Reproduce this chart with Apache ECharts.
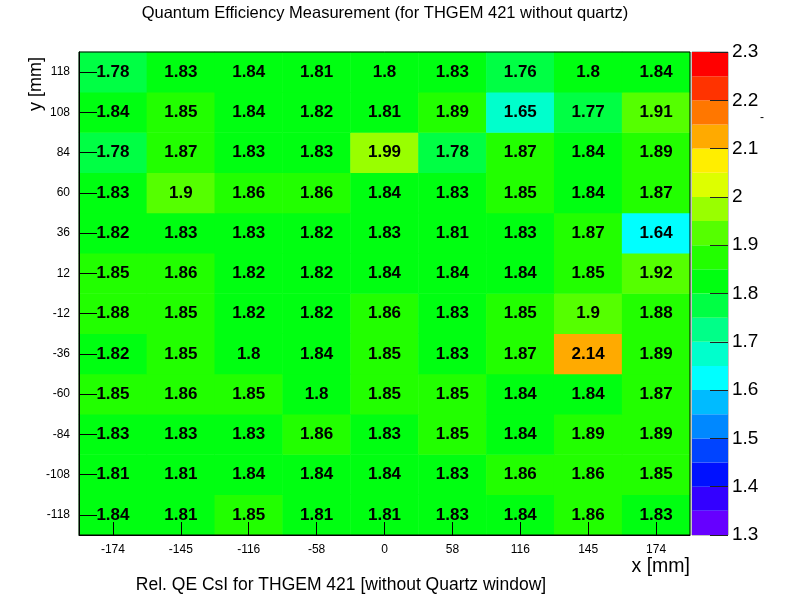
<!DOCTYPE html>
<html>
<head>
<meta charset="utf-8">
<script src="https://cdn.jsdelivr.net/npm/echarts@6/dist/echarts.min.js"></script>
<style>html,body{margin:0;padding:0;background:#fff}#c{width:785px;height:599px}</style>
</head>
<body>
<div id="c"></div>
<script>
// ---- data ----
const xCategories = ['-174', '-145', '-116', '-58', '0', '58', '116', '145', '174'];
const yCategories = ['-118', '-108', '-84', '-60', '-36', '-12', '12', '36', '60', '84', '108', '118'];
// rows listed top (y=118) to bottom (y=-118)
const row118  = [1.78, 1.83, 1.84, 1.81, 1.8, 1.83, 1.76, 1.8, 1.84];
const row108  = [1.84, 1.85, 1.84, 1.82, 1.81, 1.89, 1.65, 1.77, 1.91];
const row84   = [1.78, 1.87, 1.83, 1.83, 1.99, 1.78, 1.87, 1.84, 1.89];
const row60   = [1.83, 1.9, 1.86, 1.86, 1.84, 1.83, 1.85, 1.84, 1.87];
const row36   = [1.82, 1.83, 1.83, 1.82, 1.83, 1.81, 1.83, 1.87, 1.64];
const row12   = [1.85, 1.86, 1.82, 1.82, 1.84, 1.84, 1.84, 1.85, 1.92];
const rowM12  = [1.88, 1.85, 1.82, 1.82, 1.86, 1.83, 1.85, 1.9, 1.88];
const rowM36  = [1.82, 1.85, 1.8, 1.84, 1.85, 1.83, 1.87, 2.14, 1.89];
const rowM60  = [1.85, 1.86, 1.85, 1.8, 1.85, 1.85, 1.84, 1.84, 1.87];
const rowM84  = [1.83, 1.83, 1.83, 1.86, 1.83, 1.85, 1.84, 1.89, 1.89];
const rowM108 = [1.81, 1.81, 1.84, 1.84, 1.84, 1.83, 1.86, 1.86, 1.85];
const rowM118 = [1.84, 1.81, 1.85, 1.81, 1.81, 1.83, 1.84, 1.86, 1.83];
// colour scale levels (band edges) and palette
const levels = [1.3, 1.35, 1.4, 1.45, 1.5, 1.55, 1.6, 1.65, 1.7, 1.75, 1.8, 1.85, 1.9, 1.95, 2.0, 2.05, 2.1, 2.15, 2.2, 2.25, 2.3];
const paletteColors = ['#6600ff', '#3300ff', '#0011ff', '#0044ff', '#0088ff', '#00bbff', '#00ffff', '#00ffcc', '#00ff88', '#00ff44',
                       '#00ff11', '#22ff00', '#55ff00', '#99ff00', '#ddff00', '#ffee00', '#ffaa00', '#ff7700', '#ff3300', '#ff0000'];
const colorTicks = ['1.3', '1.4', '1.5', '1.6', '1.7', '1.8', '1.9', '2', '2.1', '2.2', '2.3'];

// ---- build ----
const rowsBottomUp = [rowM118, rowM108, rowM84, rowM60, rowM36, rowM12, row12, row36, row60, row84, row108, row118];
const heatData = [];
rowsBottomUp.forEach((row, yi) => row.forEach((v, xi) => heatData.push([xi, yi, v])));

const pieces = [];
for (let i = 0; i < paletteColors.length; i++) {
  const p = { gte: levels[i], color: paletteColors[i] };
  if (i < paletteColors.length - 1) p.lt = levels[i + 1]; else p.lte = levels[i + 1];
  pieces.push(p);
}
const barData = [];
for (let i = 0; i < paletteColors.length; i++) barData.push([levels[i], levels[i + 1], i]);

const FONT = '"Liberation Sans", Arial, Helvetica, sans-serif';
const chart = echarts.init(document.getElementById('c'), null, { renderer: 'canvas' });
chart.setOption({
  animation: false,
  backgroundColor: '#fff',
  textStyle: { fontFamily: FONT },
  grid: [
    { left: 79, right: 95, top: 52, bottom: 64, show: true, borderColor: '#000', borderWidth: 1, backgroundColor: 'transparent', z: 10 },
    { left: 692, right: 57, top: 52, bottom: 64, show: true, borderColor: '#888', borderWidth: 1 }
  ],
  xAxis: [
    { type: 'category', gridIndex: 0, data: xCategories,
      axisLine: { show: true, lineStyle: { color: '#000', width: 1 } },
      axisTick: { show: true, alignWithLabel: true, inside: true, length: 13, lineStyle: { color: '#000' } },
      axisLabel: { color: '#000', fontSize: 12, margin: 9, fontFamily: FONT },
      splitLine: { show: false }, z: 10 },
    { type: 'value', gridIndex: 1, min: 0, max: 1, show: false }
  ],
  yAxis: [
    { type: 'category', gridIndex: 0, data: yCategories,
      axisLine: { show: true, lineStyle: { color: '#000', width: 1 } },
      axisTick: { show: true, alignWithLabel: true, inside: true, length: 18, lineStyle: { color: '#000' } },
      axisLabel: { color: '#000', fontSize: 12, margin: 9, fontFamily: FONT },
      splitLine: { show: false }, z: 10 },
    { type: 'value', gridIndex: 1, position: 'right', min: 1.3, max: 2.3, interval: 0.1,
      axisLine: { show: false, onZero: false },
      axisTick: { show: true, inside: true, length: 18, lineStyle: { color: '#222' } },
      axisLabel: { color: '#000', fontSize: 19, margin: 4, fontFamily: FONT,
        formatter: v => { const s = colorTicks.find(t => Math.abs(parseFloat(t) - v) < 1e-6); return s || ''; } },
      splitLine: { show: false }, z: 20 }
  ],
  visualMap: {
    type: 'piecewise', show: false, seriesIndex: 0, dimension: 2, pieces: pieces
  },
  series: [
    { type: 'heatmap', xAxisIndex: 0, yAxisIndex: 0, data: heatData,
      label: { show: true, color: '#000', fontWeight: 'bold', fontSize: 17, fontFamily: FONT,
        formatter: p => String(p.value[2]) },
      itemStyle: { borderWidth: 0 },
      emphasis: { disabled: true } },
    { type: 'custom', xAxisIndex: 1, yAxisIndex: 1, data: barData, z: 1,
      renderItem: (params, api) => {
        const p0 = api.coord([0, api.value(0)]);
        const p1 = api.coord([1, api.value(1)]);
        return { type: 'rect', shape: { x: p0[0], y: p1[1], width: p1[0] - p0[0], height: p0[1] - p1[1] },
          style: { fill: paletteColors[api.value(2)] } };
      } }
  ],
  graphic: [
    { type: 'text', x: 385, y: 13, style: { text: 'Quantum Efficiency Measurement (for THGEM 421 without quartz)', font: '16.5px ' + FONT, fill: '#000', align: 'center', verticalAlign: 'middle' } },
    { type: 'text', x: 36, y: 84, rotation: Math.PI / 2, style: { text: 'y [mm]', font: '18px ' + FONT, fill: '#000', align: 'center', verticalAlign: 'middle' } },
    { type: 'text', x: 690, y: 567, style: { text: 'x [mm]', font: '19.5px ' + FONT, fill: '#000', align: 'right', verticalAlign: 'middle' } },
    { type: 'text', x: 341, y: 585, style: { text: 'Rel. QE CsI for THGEM 421 [without Quartz window]', font: '17.5px ' + FONT, fill: '#000', align: 'center', verticalAlign: 'middle' } },
    { type: 'text', x: 762, y: 118, style: { text: '-', font: '12px ' + FONT, fill: '#000', align: 'center', verticalAlign: 'middle' } }
  ]
});
</script>
</body>
</html>
